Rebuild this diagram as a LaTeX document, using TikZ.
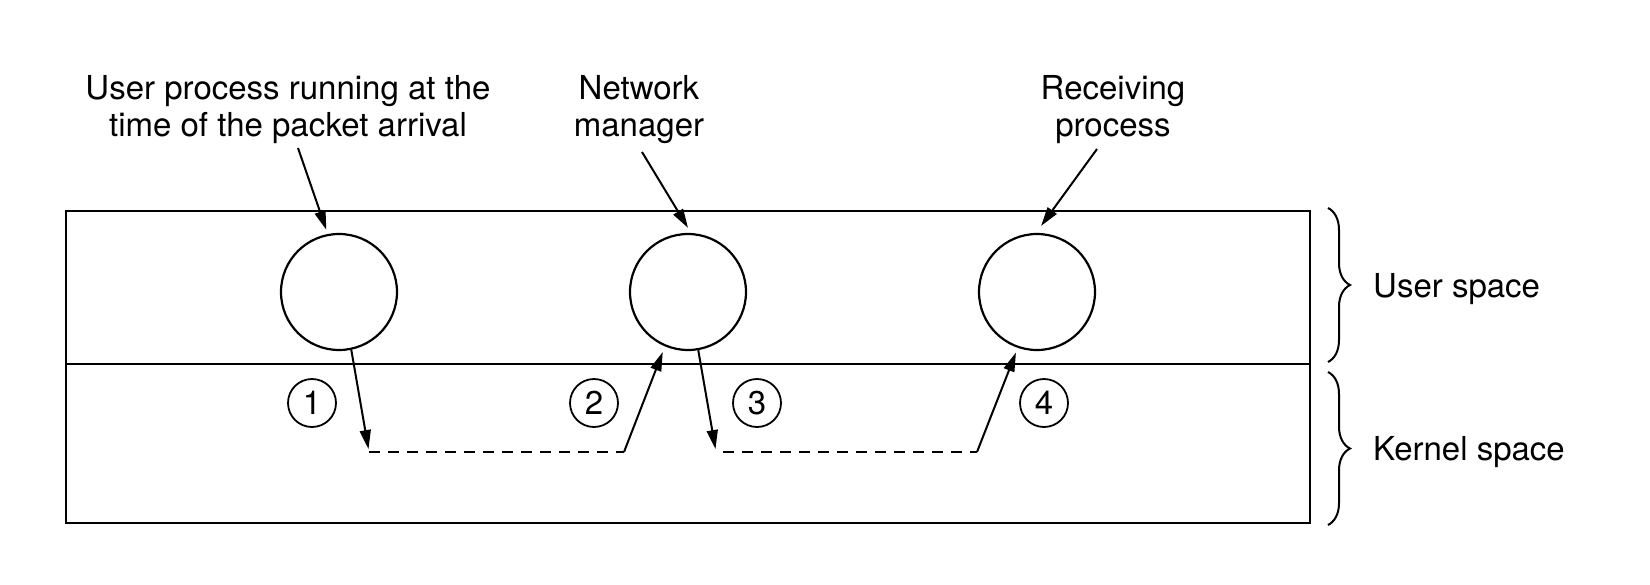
\documentclass[tikz,border=0pt]{standalone}
\usepackage{fontspec}
\setmainfont{TeX Gyre Heros}
\usetikzlibrary{arrows.meta,decorations.pathreplacing}
\begin{document}
\begin{tikzpicture}[x=1pt,y=-1pt,
  lbl/.style={font=\fontsize{33}{37}\selectfont, align=center, inner sep=0pt, anchor=base},
  proc/.style={circle, draw, line width=2.2pt, minimum size=116pt, inner sep=0pt},
  num/.style={circle, draw, line width=1.8pt, minimum size=48pt, inner sep=0pt, font=\fontsize{33}{37}\selectfont},
  ptr/.style={line width=2pt, -{Triangle[length=19pt,width=11pt]}},
  dashline/.style={line width=2pt, dash pattern=on 10.5pt off 8.5pt},
  bracestyle/.style={line width=2pt, decorate, decoration={brace, amplitude=22pt}},
  side/.style={font=\fontsize{33}{37}\selectfont, inner sep=0pt, anchor=base west}]
\useasboundingbox (0,0) rectangle (1650,584);
\fill[white] (0,0) rectangle (1650,584);
% frame
\draw[line width=2.2pt] (66,211) rectangle (1310,523);
\draw[line width=2.2pt] (66,364) -- (1310,364);
% labels (anchor base = baseline of last line)
\node[lbl] (l1) at (288,136) {User process running at the\\time of the packet arrival};
\node[lbl] (l2) at (639,136) {Network\\manager};
\node[lbl] (l3) at (1113,136) {Receiving\\process};
% processes
\node[proc] (c1) at (339,292) {};
\node[proc] (c2) at (688,292) {};
\node[proc] (c3) at (1037,292) {};
% step numbers
\node[num] (n1) at (312,403) {1};
\node[num] (n2) at (594,403) {2};
\node[num] (n3) at (757,403) {3};
\node[num] (n4) at (1044,403) {4};
% coordinates
\coordinate (s1) at (298,148);
\coordinate (s2) at (642,152);
\coordinate (s3) at (1097,149);
\coordinate (d1a) at (369,452);
\coordinate (d1b) at (624,452);
\coordinate (d2a) at (716,452);
\coordinate (d2b) at (977,452);
% pointers
\draw[ptr, shorten >=4.4pt] (s1) -- (c1.101);
\draw[ptr, shorten >=6pt] (s2) -- (c2.87);
\draw[ptr, shorten >=8.7pt] (s3) -- (c3.91);
% kernel path
\draw[ptr, shorten >=3pt] (c1.282) -- (d1a);
\draw[dashline] (d1a) -- (d1b);
\draw[ptr, shorten >=6pt] (d1b) -- (c2.247);
\draw[ptr, shorten >=3pt] (c2.280) -- (d2a);
\draw[dashline, dash phase=12pt] (d2a) -- (d2b);
\draw[ptr, shorten >=5pt] (d2b) -- (c3.251);
% braces
\draw[bracestyle] (1328,208) -- (1328,362);
\draw[bracestyle] (1328,372) -- (1328,525);
\node[side] (us) at (1373,297) {User space};
\node[side] (ks) at (1373,460) {Kernel space};
\end{tikzpicture}
\end{document}
